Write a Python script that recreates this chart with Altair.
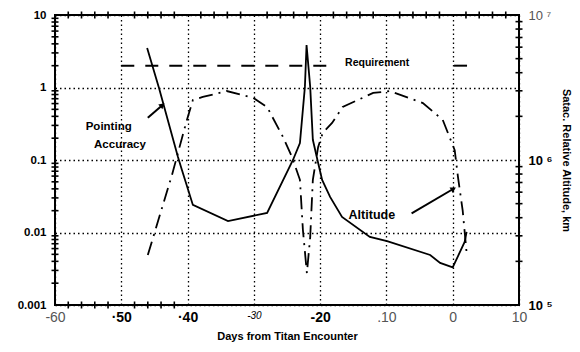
import altair as alt
import pandas as pd

# ---- data ----
pa_x = [-46.1, -44.3, -41.45, -40.85, -39.2, -33.9, -28.0, -24.1, -23.05, -22.3, -22.05,
        -21.5, -21.1, -20.3, -19.7, -18.5, -16.7, -12.5, -9.9, -3.4, -1.9, 0.0, 1.8, 2.1]
pa_y = [3.5, 0.98, 0.11, 0.073, 0.024, 0.0144, 0.0186, 0.1, 0.171, 1.02, 3.85,
        1.02, 0.19, 0.091, 0.053, 0.031, 0.0164, 0.0087, 0.0076, 0.0049, 0.0038, 0.0033, 0.0074, 0.0102]

alt_x = [-46.0, -42.35, -40.1, -39.2, -37.7, -34.1, -30.1, -28.0, -25.6, -24.25, -23.05, -22.6,
         -22.0, -21.5, -21.1, -20.3, -19.6, -18.2, -16.6, -12.0, -9.5, -4.5, -1.5, 0.3, 0.8, 1.5, 2.1]
alt_y = [2.21e5, 7.9e5, 1.89e6, 2.59e6, 2.72e6, 2.99e6, 2.68e6, 2.32e6, 1.44e6, 1.05e6, 7.3e5, 3.29e5,
         1.66e5, 2.94e5, 7.3e5, 1.23e6, 1.54e6, 1.8e6, 2.32e6, 2.9e6, 2.99e6, 2.47e6, 1.89e6, 1.17e6,
         7.6e5, 4.5e5, 2.28e5]

req_x = [-50, -17.5, 0.2, 2.6]
req_y = [2.0, 2.0, 2.0, 2.0]
req_seg = ["a", "a", "b", "b"]

label_text = ["Requirement", "Pointing", "Accuracy", "Altitude"]
label_x = [-11.4, -51.9, -50.2, -12.2]
label_y = [2.2, 0.287, 0.162, 0.0172]

arrow_x0 = [-46.0, -6.2]
arrow_y0 = [0.383, 0.0184]
arrow_x1 = [-43.9, 0.0]
arrow_y1 = [0.562, 0.0395]
arrow_angle = [49, 60]

x_ticks = [-60, -50, -40, -30, -20, -10, 0, 10]
x_tick_labels = ["-60", "·50", "·40", "-30", "-20", ".10", "0", "10"]
left_ticks = [0.001, 0.01, 0.1, 1, 10]
right_ticks = [1e5, 1e6, 1e7]
right_tick_labels = ["10 ⁵", "10 ⁶", "10 ⁷"]

left_minor = [k * 10.0 ** e for e in [-3, -2, -1, 0] for k in range(2, 10)]
right_minor = [k * 10.0 ** e for e in [5, 6] for k in range(2, 10)]
top_minor = [v for v in range(-58, 10, 2) if v % 10 != 0]
bottom_minor = [-58, -56, -54, -52, -48, -46, -44, -42]

FONT = "Liberation Sans"

df_pa = pd.DataFrame({"x": pa_x, "y": pa_y})
df_alt = pd.DataFrame({"x": alt_x, "alt": alt_y})
df_req = pd.DataFrame({"x": req_x, "y": req_y, "seg": req_seg})
df_lab = pd.DataFrame({"x": label_x, "y": label_y, "label": label_text})
df_arr = pd.DataFrame({"x": arrow_x0, "y": arrow_y0, "x2": arrow_x1, "y2": arrow_y1})
df_head = pd.DataFrame({"x": arrow_x1, "y": arrow_y1, "a": arrow_angle})
df_lm = pd.DataFrame({"y": left_minor, "x": [-60.0] * len(left_minor)})
df_rm = pd.DataFrame({"alt": right_minor, "x": [10.0] * len(right_minor)})
df_tm = pd.DataFrame({"x": top_minor, "y": [10.0] * len(top_minor)})
df_bm = pd.DataFrame({"x": bottom_minor, "y": [0.001] * len(bottom_minor)})

xmap = "{" + ",".join(f"'{v}':'{t}'" for v, t in zip(x_ticks, x_tick_labels)) + "}"
rmap = "{" + ",".join(f"'{int(v)}':'{t}'" for v, t in zip(right_ticks, right_tick_labels)) + "}"

X = alt.X(
    "x:Q",
    scale=alt.Scale(domain=[-60, 10], nice=False, zero=False),
    axis=alt.Axis(
        values=x_ticks,
        labelExpr=xmap + "[datum.value + '']",
        title="Days  from  Titan  Encounter",
        titleFont=FONT, titleFontWeight="bold", titleFontSize=11, titleColor="black",
        titlePadding=6,
        labelFont=FONT,
        labelFontSize={"condition": {"test": "datum.value == -30", "value": 10}, "value": 14},
        labelFontWeight={"condition": {"test": "datum.value == -50 || datum.value == -40 || datum.value == -20",
                                       "value": "bold"}, "value": "normal"},
        labelFontStyle={"condition": {"test": "datum.value == -30", "value": "italic"}, "value": "normal"},
        labelColor={"condition": {"test": "datum.value == -50 || datum.value == -40 || datum.value == -20 || datum.value == -30",
                                  "value": "#000000"}, "value": "#555555"},
        labelPadding=5, labelFlush=False, labelOverlap=False,
        grid=True, gridColor="black", gridDash=[1.5, 3], gridWidth=1.3,
        ticks=False, domain=False,
    ),
)

YL = alt.Y(
    "y:Q",
    scale=alt.Scale(type="log", domain=[0.001, 10], nice=False),
    axis=alt.Axis(
        values=left_ticks, format=".3~f", title=None,
        labelFont=FONT, labelFontSize=11.5, labelFontWeight="bold", labelColor="black",
        labelPadding=9, labelFlush=False, labelOverlap=False,
        grid=True, gridColor="black", gridDash=[1.5, 3], gridWidth=1.3,
        ticks=False, domain=False,
    ),
)

YR = alt.Y(
    "alt:Q",
    scale=alt.Scale(type="log", domain=[1e5, 1e7], nice=False),
    axis=alt.Axis(
        orient="right", values=right_ticks,
        labelExpr=rmap + "[datum.value + '']",
        title="Satac. Relative Altitude, km", titleAngle=90,
        titleFont=FONT, titleFontWeight="bold", titleFontSize=11, titleColor="black",
        titlePadding=8,
        labelFont=FONT, labelFontSize=13,
        labelFontWeight={"condition": {"test": "datum.value < 5e6", "value": "bold"}, "value": "normal"},
        labelColor={"condition": {"test": "datum.value < 5e6", "value": "#000000"}, "value": "#555555"},
        labelPadding=9, labelFlush=False, labelOverlap=False,
        grid=False, ticks=False, domain=False,
    ),
)

TICK = dict(color="black", strokeWidth=2, size=7, thickness=1.6, opacity=1)

pa_line = alt.Chart(df_pa).mark_line(color="black", strokeWidth=1.8).encode(x=X, y=YL)
req_line = alt.Chart(df_req).mark_line(color="black", strokeWidth=2, strokeDash=[13, 11]).encode(
    x=X, y=YL, detail="seg:N")
labels = alt.Chart(df_lab).mark_text(
    font=FONT, fontWeight="bold", color="black",
    fontSize={"expr": "datum.label == 'Requirement' ? 10.5 : (datum.label == 'Altitude' ? 12.5 : 11.5)"},
).encode(x=X, y=YL, text="label:N")
arrows = alt.Chart(df_arr).mark_rule(color="black", strokeWidth=2).encode(
    x=X, y=YL, x2="x2:Q", y2="y2:Q")
heads = alt.Chart(df_head).mark_point(shape="triangle", filled=True, size=40, color="black", opacity=1).encode(
    x=X, y=YL, angle=alt.Angle("a:Q", scale=None))
lminor = alt.Chart(df_lm).mark_tick(orient="horizontal", **TICK).encode(x=X, y=YL)
tminor = alt.Chart(df_tm).mark_tick(orient="vertical", **TICK).encode(x=X, y=YL)
bminor = alt.Chart(df_bm).mark_tick(orient="vertical", **TICK).encode(x=X, y=YL)

left = alt.layer(pa_line, req_line, arrows, heads, labels, lminor, tminor, bminor)

alt_line = alt.Chart(df_alt).mark_line(color="black", strokeWidth=1.8, strokeDash=[14, 6, 2, 6]).encode(
    x=X, y=YR)
rminor = alt.Chart(df_rm).mark_tick(orient="horizontal", **TICK).encode(x=X, y=YR)
right = alt.layer(alt_line, rminor)

chart = (
    alt.layer(left, right)
    .resolve_scale(y="independent")
    .properties(
        width=464, height=290,
        padding={"left": 55, "top": 15, "right": 61, "bottom": 47},
        autosize=alt.AutoSizeParams(type="none"),
        background="white",
    )
    .configure_view(stroke="black", strokeWidth=2)
)

chart.save("out.html", embed_options={"renderer": "svg", "actions": False})
